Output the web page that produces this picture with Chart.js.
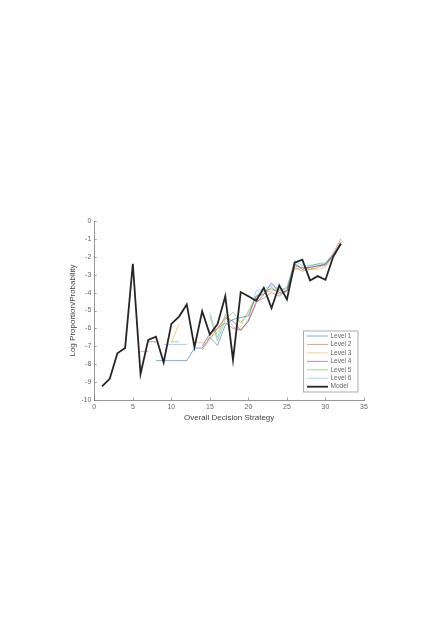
<!DOCTYPE html>
<html>
<head>
<meta charset="utf-8">
<script src="https://cdn.jsdelivr.net/npm/chart.js@4"></script>
<style>
  html, body { margin: 0; padding: 0; background: #fff; }
  canvas { display: block; }
</style>
</head>
<body>
<canvas id="chart" width="444" height="628"></canvas>
<script>
// ── Data ───────────────────────────────────────────────────────────
const strategies = [1, 2, 3, 4, 5, 6, 7, 8, 9, 10, 11, 12, 13, 14, 15, 16,
  17, 18, 19, 20, 21, 22, 23, 24, 25, 26, 27, 28, 29, 30, 31, 32];

const level1 = [null, null, null, null, null, null, null, -7.8, -7.8, -7.8, -7.8, -7.8, -7.1, -7.1, -6.5, -6.95,
  -5.8, -5.5, -5.4, -5.3, -4.2, -4.1, -3.7, -4.1, -3.9, -2.4, -2.7, -2.6, -2.5, -2.4, -1.9, -1.3];
const level2 = [null, null, null, null, null, -7.3, -7.3, null, null, null, null, null, null, -7.2, -6.6, -6.0,
  -5.7, -6.0, -6.1, -5.6, -4.5, -4.3, -4.0, -4.2, -3.9, -2.6, -2.8, -2.7, -2.6, -2.4, -1.8, -1.0];
const level3 = [null, null, null, null, null, null, null, null, null, -6.8, -5.75, null, -6.8, -6.8, -6.5, -6.2,
  -5.3, -5.6, -5.9, -5.0, -4.3, -4.0, -3.9, -3.8, -3.9, -2.7, -2.6, -2.7, -2.7, -2.6, -2.0, -1.2];
const level4 = [null, null, null, null, null, null, -6.75, -6.75, null, null, null, null, null, -7.0, -6.3, -6.0,
  -5.4, -5.6, -6.1, -5.6, -4.6, -4.1, -3.45, -4.0, -3.9, -2.5, -2.6, -2.6, -2.5, -2.5, -1.9, -1.2];
const level5 = [null, null, null, null, null, null, null, null, null, -6.75, -6.75, null, null, null, -5.3, -6.7,
  -5.5, -5.1, -5.7, -5.1, -4.2, -3.9, -3.8, -3.9, -3.7, -2.3, -2.7, -2.5, -2.4, -2.4, -2.0, -1.2];
const level6 = [null, null, null, null, null, null, null, null, -6.9, -6.9, -6.9, -6.9, null, null, -5.1, -6.5,
  -5.2, -5.9, -6.1, -5.5, -3.9, -3.8, -3.6, -3.8, -3.8, -2.2, -2.5, -2.5, -2.4, -2.3, -1.9, -1.2];
const model = [-9.24, -8.82, -7.39, -7.09, -2.39, -8.55, -6.64, -6.46, -7.9, -5.75, -5.34, -4.66, -7.05, -5.04, -6.34, -5.75,
  -4.2, -7.76, -3.97, -4.2, -4.45, -3.73, -4.87, -3.6, -4.38, -2.33, -2.16, -3.32, -3.08, -3.28, -2.0, -1.27];

const seriesNames = ['Level 1', 'Level 2', 'Level 3', 'Level 4', 'Level 5', 'Level 6', 'Model'];
const xTicks = [0, 5, 10, 15, 20, 25, 30, 35];
const yTicks = [0, -1, -2, -3, -4, -5, -6, -7, -8, -9, -10];

// ── Style ──────────────────────────────────────────────────────────
const levelColors = [
  'rgba(0, 114, 189, 0.55)',
  'rgba(217, 83, 25, 0.55)',
  'rgba(237, 177, 32, 0.55)',
  'rgba(126, 47, 142, 0.55)',
  'rgba(119, 172, 48, 0.55)',
  'rgba(77, 190, 238, 0.55)',
];
const FONT = '"Liberation Sans", Arial, sans-serif';
const AXIS_COLOR = '#7a7a7a';
const TEXT_COLOR = '#666';

function toPoints(values) {
  return strategies.map(function (s, i) { return { x: s, y: values[i] }; });
}

const levels = [level1, level2, level3, level4, level5, level6];
const datasets = levels.map(function (vals, i) {
  return {
    label: seriesNames[i],
    data: toPoints(vals),
    borderColor: levelColors[i],
    borderWidth: 1,
    pointRadius: 0,
    spanGaps: false,
    tension: 0,
  };
});
datasets.push({
  label: seriesNames[6],
  data: toPoints(model),
  borderColor: '#262626',
  borderWidth: 1.8,
  pointRadius: 0,
  tension: 0,
  order: -1,
});

// ── Inner tick marks (MATLAB style) ────────────────────────────────
const innerTicks = {
  id: 'innerTicks',
  afterDatasetsDraw(chart) {
    const ctx = chart.ctx;
    const xs = chart.scales.x, ys = chart.scales.y;
    ctx.save();
    ctx.strokeStyle = AXIS_COLOR;
    ctx.lineWidth = 0.7;
    ctx.beginPath();
    xTicks.forEach(function (v) {
      const px = Math.round(xs.getPixelForValue(v)) + 0.5;
      ctx.moveTo(px, ys.bottom);
      ctx.lineTo(px, ys.bottom - 2.5);
    });
    yTicks.forEach(function (v) {
      const py = Math.round(ys.getPixelForValue(v)) + 0.5;
      ctx.moveTo(xs.left, py);
      ctx.lineTo(xs.left + 2.5, py);
    });
    ctx.stroke();
    ctx.restore();
  },
};

// ── Legend box inside the axes ─────────────────────────────────────
const insideLegend = {
  id: 'insideLegend',
  afterDraw(chart) {
    const ctx = chart.ctx;
    const box = { left: 303.5, top: 331, right: 358, bottom: 392 };
    ctx.save();
    ctx.fillStyle = '#fff';
    ctx.fillRect(box.left, box.top, box.right - box.left, box.bottom - box.top);
    ctx.strokeStyle = '#8a8a8a';
    ctx.lineWidth = 0.7;
    ctx.strokeRect(box.left, box.top, box.right - box.left, box.bottom - box.top);
    ctx.font = '6.5px ' + FONT;
    ctx.textBaseline = 'middle';
    ctx.fillStyle = TEXT_COLOR;
    chart.data.datasets.forEach(function (ds, i) {
      const y = 336 + i * 8.45;
      ctx.strokeStyle = ds.borderColor;
      ctx.lineWidth = ds.borderWidth;
      ctx.beginPath();
      ctx.moveTo(307, y);
      ctx.lineTo(328, y);
      ctx.stroke();
      ctx.fillText(ds.label, 330.5, y);
    });
    ctx.restore();
  },
};

// ── Chart ──────────────────────────────────────────────────────────
new Chart(document.getElementById('chart'), {
  type: 'line',
  data: { datasets: datasets },
  options: {
    responsive: false,
    animation: false,
    layout: { padding: { left: 68, top: 221, right: 80, bottom: 205 } },
    plugins: {
      legend: { display: false },
      tooltip: { enabled: false },
    },
    scales: {
      x: {
        type: 'linear',
        min: 0,
        max: 35,
        afterFit: function (scale) { scale.height = 23; },
        afterBuildTicks: function (scale) {
          scale.ticks = xTicks.map(function (v) { return { value: v }; });
        },
        grid: { drawOnChartArea: false, drawTicks: false },
        border: { color: AXIS_COLOR, width: 0.8 },
        ticks: { color: TEXT_COLOR, font: { family: FONT, size: 7 }, padding: 3, maxRotation: 0 },
        title: {
          display: true,
          text: 'Overall Decision Strategy',
          color: '#444',
          font: { family: FONT, size: 8 },
          padding: 0,
        },
      },
      y: {
        type: 'linear',
        min: -10,
        max: 0,
        afterFit: function (scale) { scale.width = 26.3; },
        afterBuildTicks: function (scale) {
          scale.ticks = yTicks.map(function (v) { return { value: v }; });
        },
        grid: { drawOnChartArea: false, drawTicks: false },
        border: { color: AXIS_COLOR, width: 0.8 },
        ticks: { color: TEXT_COLOR, font: { family: FONT, size: 7 }, padding: 3 },
        title: {
          display: true,
          text: 'Log Proportion/Probability',
          color: '#444',
          font: { family: FONT, size: 8 },
          padding: 0,
        },
      },
    },
  },
  plugins: [innerTicks, insideLegend],
});
</script>
</body>
</html>
